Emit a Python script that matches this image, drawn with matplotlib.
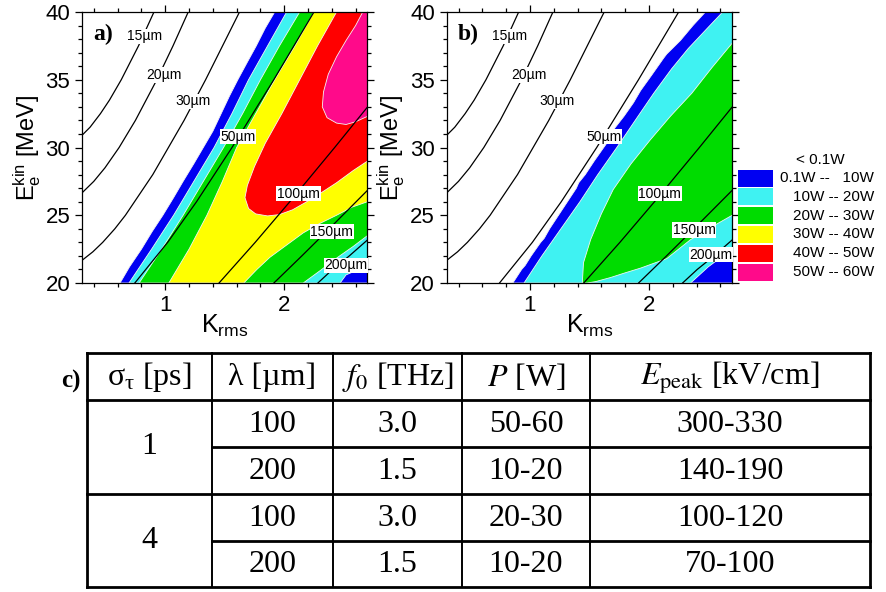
import matplotlib
matplotlib.use('Agg')
import matplotlib.pyplot as plt
from matplotlib.ticker import MultipleLocator
from matplotlib.patches import Rectangle, Polygon

plt.rcParams['font.family'] = ['Liberation Sans', 'DejaVu Sans']
plt.rcParams['mathtext.fontset'] = 'stix'

# ---- wavelength contour lines (K_rms, E_kin) ----
lam_names = ['15µm', '20µm', '30µm', '50µm', '100µm', '150µm', '200µm']
lam_E = [
    [30.9, 31.5, 32.5, 33.5, 35, 37.5, 40],
    [26.65, 27.5, 28.5, 30, 32, 35, 37.5, 40],
    [21.67, 22.3, 23, 24, 25, 28, 32, 35, 40],
    [20, 23, 26, 30, 35, 40],
    [20, 23, 26, 30, 32.99],
    [20, 22, 24, 26.84],
    [20, 21, 22, 23.18],
]
lam_K = [
    [0.30, 0.368, 0.455, 0.531, 0.630, 0.775, 0.905],
    [0.30, 0.399, 0.493, 0.612, 0.749, 0.929, 1.065, 1.193],
    [0.30, 0.391, 0.474, 0.576, 0.665, 0.895, 1.158, 1.339, 1.624],
    [0.744, 1.020, 1.263, 1.561, 1.912, 2.250],
    [1.452, 1.756, 2.047, 2.424, 2.70],
    [1.913, 2.148, 2.378, 2.70],
    [2.283, 2.406, 2.547, 2.70],
]
# label positions (K, E)
lab_a = [(0.83, 38.2), (0.99, 35.35), (1.23, 33.4), (1.61, 30.8), (2.12, 26.6), (2.40, 23.8), (2.52, 21.3)]
lab_b = [(0.825, 38.2), (0.99, 35.35), (1.23, 33.4), (1.62, 30.8), (2.09, 26.6), (2.38, 23.9), (2.52, 22.1)]

pow_colors = ['#0000f2', '#3ff2f2', '#00dc00', '#ffff00', '#ff0000', '#ff0a8a']
pow_names = ['0.1W --   10W', '10W -- 20W', '20W -- 30W', '30W -- 40W', '40W -- 50W', '50W -- 60W']

# ---- power regions, panel a (polygon vertices K, E) ----
a_blue = [(0.62, 20), (0.70, 21.2), (0.80, 22.5), (0.89, 23.8), (0.98, 25), (1.07, 26.3), (1.15, 27.5),
          (1.24, 28.8), (1.32, 30), (1.40, 31.2), (1.47, 32.5), (1.54, 33.8), (1.61, 35), (1.69, 36.3),
          (1.765, 37.5), (1.84, 38.8), (1.92, 40), (2.9, 40), (2.9, 20)]
a_cyan = [(0.695, 20), (0.885, 22.5), (1.07, 25), (1.24, 27.5), (1.41, 30), (1.56, 32.5), (1.70, 35),
          (1.86, 37.5), (2.02, 40), (2.9, 40), (2.9, 21.2), (2.60, 20.9), (2.52, 20.6), (2.47, 20)]
a_green = [(0.78, 20), (0.97, 22.5), (1.15, 25), (1.32, 27.5), (1.49, 30), (1.65, 32.5), (1.80, 35),
           (1.96, 37.5), (2.13, 40), (2.9, 40), (2.9, 23.7), (2.70, 23.5), (2.58, 22.7), (2.45, 21.9),
           (2.30, 20.9), (2.16, 20)]
a_yellow = [(1.03, 20), (1.20, 22.5), (1.35, 25), (1.48, 27.5), (1.60, 30), (1.76, 32.5), (1.92, 35),
            (2.09, 37.5), (2.25, 40), (2.9, 40), (2.9, 26.1), (2.70, 26.0), (2.57, 25.6), (2.44, 25.0),
            (2.30, 24.4), (2.16, 23.7), (2.02, 22.8), (1.88, 21.9), (1.77, 21.0), (1.66, 20)]
a_red = [(2.44, 40), (2.28, 37.5), (2.13, 35), (1.98, 32.5), (1.84, 30.3), (1.75, 28.6), (1.69, 27.2),
         (1.67, 26.3), (1.70, 25.5), (1.76, 25.1), (1.86, 24.95), (1.96, 25.05), (2.07, 25.4), (2.18, 25.95),
         (2.30, 26.6), (2.44, 27.4), (2.58, 28.3), (2.70, 29.0), (2.9, 29.1), (2.9, 40)]
a_pink = [(2.66, 40), (2.60, 39.0), (2.52, 37.9), (2.44, 36.7), (2.37, 35.4), (2.33, 34.1), (2.32, 33.0),
          (2.36, 32.2), (2.44, 31.8), (2.52, 31.7), (2.60, 31.9), (2.70, 32.3), (2.9, 32.4), (2.9, 40)]

# ---- power regions, panel b ----
b_blue = [(0.856, 20), (0.93, 21), (0.96, 21.3), (1.01, 22), (1.09, 23), (1.12, 23.3), (1.165, 24),
          (1.24, 25), (1.27, 25.4), (1.315, 26), (1.39, 27), (1.41, 27.4), (1.465, 28), (1.54, 29),
          (1.62, 30), (1.70, 31), (1.71, 31.4), (1.79, 32.3), (1.87, 33.3), (1.93, 34.2), (2.02, 35.3),
          (2.124, 36.6), (2.15, 36.9), (2.265, 37.9), (2.37, 39), (2.475, 40), (2.9, 40), (2.9, 20)]
b_cyan = [(0.95, 20), (1.10, 22), (1.26, 24), (1.42, 26), (1.57, 28), (1.73, 30), (1.90, 32.2), (2.04, 34),
          (2.19, 35.8), (2.33, 37.3), (2.48, 38.7), (2.62, 40), (2.9, 40), (2.9, 22.6), (2.70, 22.5),
          (2.50, 21.2), (2.35, 20)]
b_green = [(1.44, 20), (1.45, 21.5), (1.51, 23.2), (1.60, 25.1), (1.70, 26.9), (1.85, 28.8), (2.01, 30.55),
           (2.18, 32.3), (2.36, 34.0), (2.53, 35.9), (2.70, 37.7), (2.9, 38.0), (2.9, 25.0), (2.70, 25.0),
           (2.50, 24.0), (2.35, 23.2), (2.15, 21.8), (1.93, 21.1), (1.80, 20.75), (1.676, 20.4),
           (1.55, 20.1), (1.48, 20)]

# ---- table ----
tab_header = [r'$\mathregular{\sigma_\tau}$ [ps]', 'λ [µm]', r'$f_0$ [THz]', r'$P$ [W]',
              r'$E_\mathrm{peak}$ [kV/cm]']
tab_sigma = ['1', '4']
tab_lambda = ['100', '200', '100', '200']
tab_f0 = ['3.0', '1.5', '3.0', '1.5']
tab_P = ['50-60', '10-20', '20-30', '10-20']
tab_Epeak = ['300-330', '140-190', '100-120', '70-100']

W, H = 887, 592
fig = plt.figure(figsize=(W / 100, H / 100), dpi=100)


def fx(x):
    return x / W


def fy(y):
    return 1 - y / H


def panel(left, polys, labs, tag):
    ax = fig.add_axes([fx(left), fy(283), 285.5 / W, 271 / H])
    for pts, c in polys:
        ax.add_patch(Polygon(pts, closed=True, facecolor=c, edgecolor='#f4f4f4', lw=0.6, zorder=1))
    for K, E in zip(lam_K, lam_E):
        ax.plot(K, E, color='black', lw=0.9, zorder=2)
    for name, (k, e) in zip(lam_names, labs):
        ax.text(k, e, name, fontsize=10, ha='center', va='center', zorder=3,
                bbox=dict(facecolor='white', edgecolor='none', pad=0.5))
    ax.set_xlim(0.3, 2.7)
    ax.set_ylim(20, 40)
    ax.xaxis.set_major_locator(MultipleLocator(1))
    ax.xaxis.set_minor_locator(MultipleLocator(0.2))
    ax.yaxis.set_major_locator(MultipleLocator(5))
    ax.yaxis.set_minor_locator(MultipleLocator(1))
    ax.tick_params(which='both', direction='out', top=True, right=True, labelsize=16, width=0.9)
    ax.tick_params(which='major', length=5)
    ax.tick_params(which='minor', length=3)
    for s in ax.spines.values():
        s.set_linewidth(0.9)
    ax.set_xlabel(r'$\mathregular{K_{rms}}$', fontsize=18, labelpad=-2)
    ax.set_ylabel(r'$\mathregular{E_e^{kin}}$ [MeV]', fontsize=17, labelpad=2)
    ax.text(0.04, 0.955, tag, transform=ax.transAxes, fontsize=17, fontweight='bold',
            family='Liberation Serif', ha='left', va='top')
    return ax


panel(82, [(a_blue, pow_colors[0]), (a_cyan, pow_colors[1]), (a_green, pow_colors[2]),
           (a_yellow, pow_colors[3]), (a_red, pow_colors[4]), (a_pink, pow_colors[5])], lab_a, 'a)')
panel(446.7, [(b_blue, pow_colors[0]), (b_cyan, pow_colors[1]), (b_green, pow_colors[2])], lab_b, 'b)')

# legend
fig.text(fx(820), fy(160), '< 0.1W', fontsize=11, ha='center', va='center')
for i, (c, name) in enumerate(zip(pow_colors, pow_names)):
    yc = 178 + i * 18.8
    fig.patches.append(Rectangle((fx(738), fy(yc + 8.5)), 35 / W, 17 / H, transform=fig.transFigure,
                                 facecolor=c, edgecolor='none'))
    fig.text(fx(874), fy(yc), name, fontsize=11, ha='right', va='center')

# table (overlay axes in pixel coordinates)
tx = fig.add_axes([0, 0, 1, 1])
tx.set_xlim(0, W)
tx.set_ylim(H, 0)
tx.axis('off')
cols = [87, 212, 333, 462, 590, 870]
rows = [353, 400, 447, 494, 541, 587]
lw = 2.0
for y in [rows[0], rows[1], rows[3], rows[5]]:
    tx.plot([cols[0], cols[-1]], [y, y], color='black', lw=lw, solid_capstyle='projecting')
for y in [rows[2], rows[4]]:
    tx.plot([cols[1], cols[-1]], [y, y], color='black', lw=lw)
for j, x in enumerate(cols):
    tx.plot([x, x], [rows[0], rows[-1]], color='black', lw=1.4 if 0 < j < 5 else lw)
tfont = dict(family='Liberation Serif', fontsize=23, ha='center', va='center')
for j, h in enumerate(tab_header):
    tx.text((cols[j] + cols[j + 1]) / 2, (rows[0] + rows[1]) / 2 + 1, h, **tfont)
for i, s in enumerate(tab_sigma):
    tx.text((cols[0] + cols[1]) / 2, rows[1 + 2 * i + 1], s, **tfont)
for i in range(4):
    yc = (rows[i + 1] + rows[i + 2]) / 2 + 1
    for j, v in enumerate([tab_lambda[i], tab_f0[i], tab_P[i], tab_Epeak[i]]):
        tx.text((cols[j + 1] + cols[j + 2]) / 2, yc, v, **tfont)
tx.text(71, 381, 'c)', family='Liberation Serif', fontsize=18, fontweight='bold', ha='center', va='center')

fig.savefig('out.png', dpi=100)
